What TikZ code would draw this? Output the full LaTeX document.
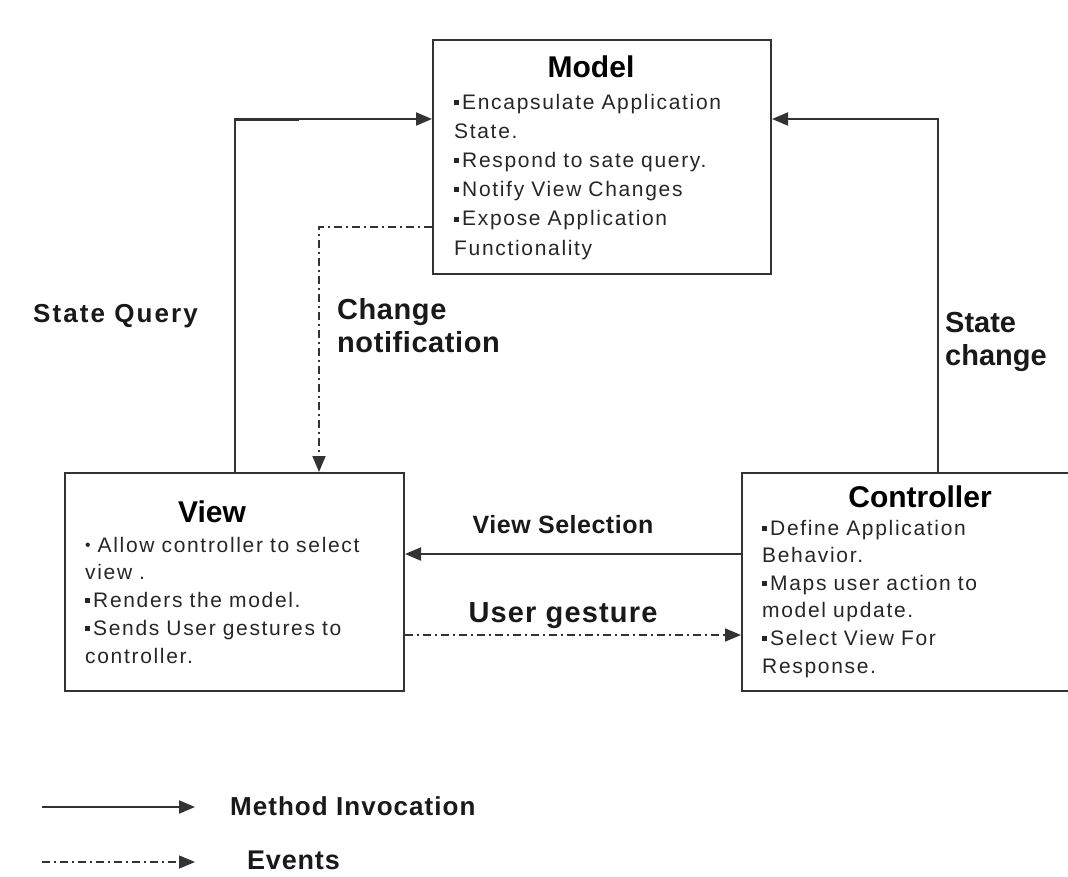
\documentclass[tikz,border=0pt]{standalone}
\usepackage{fontspec}
\usepackage{graphicx}
\setmainfont{Liberation Sans}
\newfontfamily\bodyfam[LetterSpace=8]{Liberation Sans}
\newfontfamily\labfam{Liberation Sans}
\usetikzlibrary{arrows.meta,calc}

% small square bullet and round bullet used in the lists
\newcommand\sqb{\raisebox{0.2em}{\rule{0.24em}{0.24em}}\hspace{0.14em}}
\newcommand\rdb{\raisebox{0.05em}{\scalebox{0.75}{\textbullet}}}

\definecolor{linec}{HTML}{333333}
\definecolor{txtc}{HTML}{262626}

\tikzset{
  x=1pt, y=-1pt,
  box/.style={draw=linec, line width=2pt, rectangle, inner sep=0pt, anchor=north west},
  title/.style={anchor=base, inner sep=0pt, font=\labfam\bfseries\fontsize{30}{34}\selectfont, text=black},
  bodytxt/.style={anchor=base west, inner sep=0pt, text width=330pt, align=left, text=txtc},
  lab/.style={inner sep=0pt, font=\labfam\bfseries, text=black!90},
  link/.style={draw=linec, line width=2pt, -{Triangle[length=16pt,width=13pt]}},
  evlink/.style={draw=linec, line width=1.6pt, dash pattern=on 8pt off 4pt on 2pt off 4pt,
                 -{Triangle[length=16pt,width=13pt]}},
}

\begin{document}
\begin{tikzpicture}
\useasboundingbox (0,0) rectangle (1068,876);
\clip (0,0) rectangle (1068,876);

% ---- the three boxes ----
\node[box, minimum width=338pt, minimum height=234pt] (model) at (432,39) {};
\node[box, minimum width=339pt, minimum height=218pt] (view)  at (64,472) {};
\node[box, minimum width=335pt, minimum height=218pt] (ctrl)  at (741,472) {};

% ---- Model ----
\node[title] (modelT) at (591,77) {Model};
\node[bodytxt, font=\bodyfam\fontsize{21}{29.2}\selectfont] (modelB) at (454,109)
  {\sqb Encapsulate Application\\State.\\\sqb Respond to sate query.\\\sqb Notify View Changes\\\sqb Expose Application\\Functionality};

% ---- View ----
\node[title] (viewT) at (212,522) {View};
\node[bodytxt, font=\bodyfam\fontsize{21}{27.75}\selectfont] (viewB) at (85,552)
  {\rdb{} Allow controller to select\\view .\\\sqb Renders the model.\\\sqb Sends User gestures to\\controller.};

% ---- Controller ----
\node[title] (ctrlT) at (920,507) {Controller};
\node[bodytxt, font=\bodyfam\fontsize{21}{27.6}\selectfont] (ctrlB) at (762,535)
  {\sqb Define Application\\Behavior.\\\sqb Maps user action to\\model update.\\\sqb Select View For\\Response.};

% ---- connectors ----
% state query: view -> model
\draw[link] (view.north) |- ($(model.north west)+(0,80)$);
\draw[draw=linec, line width=3pt] ($(view.north)+(0,-353)$) -- ++(64,0);
% state change: controller -> model
\draw[link] ($(ctrl.north west)+(197,0)$) |- ($(model.north east)+(0,80)$);
% change notification: model -> view
\draw[evlink] ($(model.north west)+(0,188)$) -| ($(view.north west)+(255,0)$);
% view selection: controller -> view
\draw[link] ($(ctrl.north west)+(0,82)$) -- ($(view.north east)+(0,82)$);
% user gesture: view -> controller
\draw[evlink] ($(view.north east)+(0,163)$) -- ($(ctrl.north west)+(0,163)$);

% ---- connector labels (two-line labels are placed by their last baseline) ----
\node[lab, anchor=base west, font=\labfam\bfseries\fontsize{26}{30}\selectfont\addfontfeature{LetterSpace=8}] (lq) at (33,322) {State Query};
\node[lab, anchor=base west, align=left, font=\labfam\bfseries\fontsize{29}{33}\selectfont\addfontfeature{LetterSpace=2}] (lcn) at (337,352) {Change\\notification};
\node[lab, anchor=base west, align=left, font=\labfam\bfseries\fontsize{29}{33}\selectfont] (lsc) at (945,365) {State\\change};
\node[lab, anchor=base, font=\labfam\bfseries\fontsize{25}{29}\selectfont\addfontfeature{LetterSpace=2}] (lvs) at (563,533) {View Selection};
\node[lab, anchor=base, font=\labfam\bfseries\fontsize{29}{33}\selectfont\addfontfeature{LetterSpace=4}] (lug) at (563,622) {User gesture};

% ---- legend ----
\coordinate (k1a) at (42,807);
\coordinate (k1b) at (195,807);
\coordinate (k2a) at (42,862);
\coordinate (k2b) at (195,862);
\draw[link] (k1a) -- (k1b);
\draw[evlink] (k2a) -- (k2b);
\node[lab, anchor=base west, font=\labfam\bfseries\fontsize{26}{30}\selectfont\addfontfeature{LetterSpace=4}] (lmi) at (230,815) {Method Invocation};
\node[lab, anchor=base west, font=\labfam\bfseries\fontsize{27}{31}\selectfont\addfontfeature{LetterSpace=3}] (lev) at (247,869) {Events};
\end{tikzpicture}
\end{document}
